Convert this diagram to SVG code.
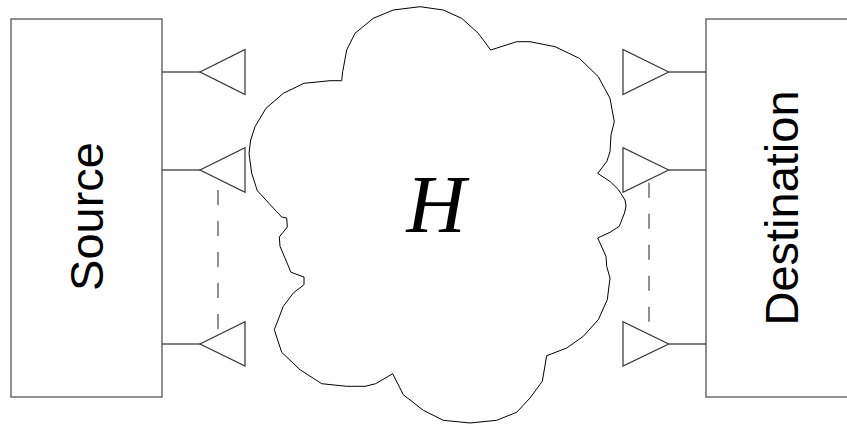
<svg xmlns="http://www.w3.org/2000/svg" width="847" height="426" viewBox="0 0 847 426">
<style>
.box{fill:#fff;stroke:#555;stroke-width:1.3}
.wire{stroke:#555;stroke-width:1.3;fill:none}
.ant{fill:#fff;stroke:#333;stroke-width:1.2}
.dash{stroke:#555;stroke-width:1.3;stroke-dasharray:15,16;fill:none}
.lbl{font-family:"Liberation Sans",Arial,sans-serif;font-size:47px;fill:#000}
.cloud{fill:#fff;stroke:#000;stroke-width:1}
</style>
<rect width="847" height="426" fill="#fff"/>
<g id="channel">
<polygon class="cloud" points="341.7,80.7 330,80.7 304,83.3 283.3,93.3 266,108.3 255,126.7 250.7,140 249,153.3 251.7,173.3 257.3,190.7 276.7,211.7 281.7,217 286.7,218 287.3,227 279.3,237 280,246.3 291,272.3 304,277 304,284.7 293.3,293 283.3,306.3 274.3,329.7 281.7,352.3 300,369.7 321.7,383.7 346.7,386.3 365,386.3 375.7,383.7 392.7,373.7 403.3,394.7 423.3,410.3 443.3,420.3 470,423 496.7,420.3 516.7,412.3 530,398 542.3,381.3 546.7,355.7 566.7,348 583.3,336.3 598.3,319.7 607.3,299.7 610,278 606.7,266.3 606,256.3 597.7,238 610,232.3 619.3,226.3 624.5,213 626,206 625,200 618.7,190 610.3,181.7 597.7,173.3 606.7,161.7 610,151.7 611,135 614.3,121.7 610,98.3 598.3,76.7 579.3,58.3 555,46.7 530,41.7 516.7,41.7 490.7,50 478.3,33.3 461.7,18.3 443.3,10 420,6.7 393.3,10 373.3,18.3 355,33.3 346.7,50 342.7,71.7"/>
<text x="436" y="232" text-anchor="middle" font-family="Liberation Serif,'Times New Roman',serif" font-style="italic" font-size="82">H</text>
</g>
<g id="source">
<rect class="box" x="11" y="19" width="151" height="378"/>
<text class="lbl" transform="translate(102.5,216.5) rotate(-90)" text-anchor="middle">Source</text>
</g>
<g id="destination">
<rect class="box" x="706" y="19" width="200" height="378"/>
<text class="lbl" transform="translate(797.5,208) rotate(-90)" text-anchor="middle">Destination</text>
</g>
<g id="connectors">
<line class="wire" x1="162" y1="72" x2="200" y2="72"/>
<line class="wire" x1="162" y1="170" x2="200" y2="170"/>
<line class="wire" x1="162" y1="344" x2="200" y2="344"/>
<line class="wire" x1="668.7" y1="72" x2="706" y2="72"/>
<line class="wire" x1="668.7" y1="170" x2="706" y2="170"/>
<line class="wire" x1="668.7" y1="344" x2="706" y2="344"/>
<line class="dash" x1="218" y1="190" x2="218" y2="332"/>
<line class="dash" x1="649" y1="182.7" x2="649" y2="327"/>
</g>
<g id="tx1"><polygon class="ant" points="200,72 245,49.5 245,94.5"/></g>
<g id="tx2"><polygon class="ant" points="200,170 245,147.7 245,192.3"/></g>
<g id="tx3"><polygon class="ant" points="200,344 245,321.7 245,366"/></g>
<g id="rx1"><polygon class="ant" points="668.7,72 623,49.5 623,94.5"/></g>
<g id="rx2"><polygon class="ant" points="668.7,170 623,147.7 623,192.3"/></g>
<g id="rx3"><polygon class="ant" points="668.7,344 623,321.7 623,366"/></g>
</svg>
